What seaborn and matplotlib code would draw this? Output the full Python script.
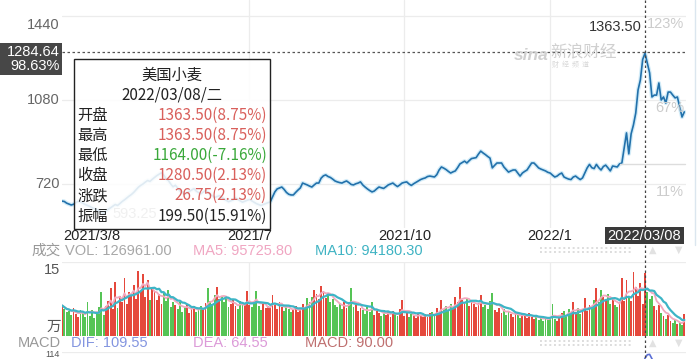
import numpy as np
import pandas as pd
import matplotlib
matplotlib.use('Agg')
import matplotlib.pyplot as plt
import seaborn as sns
from matplotlib.patches import Rectangle

# ---------------- data ----------------
close = [
    646.75, 645, 638, 634, 630, 633, 640, 646, 643, 638,
    632, 628, 624, 618, 614, 610, 605, 600, 593.25, 603,
    612, 618, 625, 632, 628, 636, 645, 652, 660, 668,
    675, 684, 695, 706, 714, 720, 728, 735, 731, 740,
    748, 756, 762, 768, 758, 742, 735, 720, 708, 715,
    702, 690, 684, 676, 682, 688, 694, 700, 690, 683,
    678, 685, 692, 686, 678, 670, 662, 666, 670, 664,
    656, 650, 644, 648, 652, 660, 654, 648, 642, 646,
    650, 654, 648, 642, 636, 632, 628, 632, 636, 640,
    643, 665, 686, 699, 703, 707, 697, 684, 676, 673,
    673, 684, 694, 703, 724, 720, 716, 711, 707, 716,
    724, 724, 745, 755, 759, 752, 748, 741, 733, 729,
    726, 724, 729, 733, 726, 718, 716, 721, 724, 729,
    716, 707, 699, 692, 686, 690, 699, 707, 704, 701,
    708, 716, 720, 724, 716, 709, 716, 724, 727, 729,
    720, 714, 721, 727, 733, 739, 743, 746, 752, 754,
    752, 750, 760, 780, 793, 788, 782, 774, 767, 772,
    776, 790, 806, 812, 818, 810, 820, 829, 831, 833,
    848, 861, 853, 846, 838, 831, 789, 800, 810, 810,
    810, 793, 782, 771, 776, 780, 780, 767, 754, 767,
    774, 780, 795, 810, 810, 800, 789, 784, 780, 776,
    770, 767, 758, 750, 754, 762, 767, 750, 745, 741,
    739, 750, 754, 746, 739, 746, 768, 789, 804, 790,
    786, 804, 790, 780, 795, 801, 789, 776, 797, 795,
    793, 806, 810, 875, 939, 849, 935, 973, 1024, 1123,
    1166, 1253.75, 1280.5, 1239, 1196, 1093, 1101, 1101, 1153, 1080,
    1093, 1067, 1114, 1114, 1101, 1089, 1093, 1050, 1007, 1029,
]
volume = [  # 万手
    6.2, 5.5, 4.8, 5.0, 4.2, 5.6, 4.4, 3.9, 5.2, 4.6,
    3.8, 6.9, 4.1, 5.3, 3.6, 4.5, 5.8, 8.9, 4.2, 6.0,
    7.1, 9.7, 5.5, 10.9, 5.6, 8.2, 6.8, 11.8, 6.5, 9.0,
    8.4, 10.3, 7.6, 13.2, 9.1, 12.6, 8.0, 11.4, 7.2, 9.5,
    8.9, 7.3, 8.5, 6.4, 9.0, 7.0, 9.3, 5.8, 6.9, 6.2,
    5.5, 6.8, 4.9, 5.9, 6.3, 4.6, 5.7, 6.1, 4.8, 5.4,
    6.0, 5.2, 6.6, 9.7, 7.1, 6.5, 8.3, 9.9, 7.4, 8.2,
    6.8, 7.7, 5.9, 6.4, 7.2, 6.0, 5.5, 7.0, 6.3, 6.6,
    9.1, 6.2, 5.8, 6.9, 9.1, 6.0, 5.2, 6.4, 5.6, 6.1,
    5.8, 8.3, 6.5, 5.4, 6.8, 5.9, 5.0, 6.3, 5.5, 4.9,
    5.3, 6.0, 4.8, 5.6, 6.4, 5.7, 7.7, 6.9, 8.0, 9.3,
    8.5, 7.6, 10.1, 9.2, 7.8, 8.8, 6.9, 7.5, 6.2, 5.9,
    6.5, 5.4, 6.8, 5.7, 6.9, 9.7, 5.8, 6.2, 5.0, 5.6,
    5.2, 4.5, 5.9, 4.8, 6.9, 4.3, 5.1, 4.6, 4.0, 5.3,
    4.2, 4.8, 3.9, 5.1, 4.4, 4.0, 5.5, 7.3, 4.1, 4.6,
    3.9, 4.5, 4.0, 3.6, 4.7, 4.2, 3.8, 4.4, 3.9, 4.6,
    4.9, 4.1, 5.6, 4.8, 7.3, 5.4, 6.0, 5.2, 6.5, 5.7,
    7.9, 6.8, 9.9, 7.2, 6.5, 7.8, 6.1, 7.0, 6.4, 5.8,
    6.6, 8.3, 5.9, 6.2, 5.5, 7.0, 8.7, 5.3, 4.8, 5.6,
    4.6, 5.4, 4.3, 5.0, 4.4, 3.8, 4.9, 4.2, 3.6, 4.5,
    4.1, 3.7, 4.6, 3.9, 3.4, 4.0, 3.3, 3.8, 3.1, 3.6,
    3.2, 3.9, 6.5, 3.4, 3.0, 3.7, 4.6, 5.1, 4.2, 5.5,
    4.4, 6.9, 4.8, 5.6, 4.5, 5.2, 7.7, 5.0, 6.3, 5.8,
    7.2, 9.7, 6.8, 9.3, 8.0, 7.1, 8.6, 6.5, 7.4, 6.2,
    5.8, 6.9, 11.8, 7.0, 11.4, 8.0, 7.0, 12.92, 9.9, 8.1,
    10.7, 6.46, 12.6961, 8.9, 7.4, 8.1, 6.0, 5.2, 6.3, 4.6,
    4.1, 3.5, 4.3, 3.0, 2.6, 3.2, 2.4, 2.7, 2.2, 4.5,
]
tick_labels = ['2021/3/8', '2021/7', '2021/10', '2022/1']
tick_idx = [0, 81, 148, 211]
sel_idx = 252
sel_label = '2022/03/08'
price_ticks = [1440, 1080, 720]
cursor_price = 1284.64
high_label = '1363.50'
tip_title = '美国小麦'
tip_date = '2022/03/08/二'
tip_keys = ['开盘', '最高', '最低', '收盘', '涨跌', '振幅']
tip_vals = ['1363.50(8.75%)', '1363.50(8.75%)', '1164.00(-7.16%)',
            '1280.50(2.13%)', '26.75(2.13%)', '199.50(15.91%)']
tip_cols = ['#d9605c', '#d9605c', '#3aa83a', '#d9605c', '#d9605c', '#222222']
vol_text = ['VOL: 126961.00', 'MA5: 95725.80', 'MA10: 94180.30']
macd_text = ['DIF: 109.55', 'DEA: 64.55', 'MACD: 90.00']
vol_top_label = '15'
macd_top_label = '114'

# ---------------- style ----------------
sns.set_style('white')
plt.rcParams['font.family'] = ['Liberation Sans', 'Noto Sans CJK SC', 'DejaVu Sans']
CJK = ['Noto Sans CJK SC', 'DejaVu Sans']

W, H = 700, 359
X0, XR = 62, 686
PXD = 2.3135
GRID = '#ececec'

def rect(l, t, r, b):
    return [l / W, 1 - b / H, (r - l) / W, (b - t) / H]

fig = plt.figure(figsize=(7, 3.59), dpi=100)
n = len(close)
idx = np.arange(n)
xmax = (XR - X0) / PXD
close_s = pd.Series(close)
vol_s = pd.Series(volume)

# ---------------- price panel ----------------
ax1 = fig.add_axes(rect(X0, 0, XR, 228))
ax1.axis('off')
for p in price_ticks:
    ax1.axhline(p, color=GRID, lw=0.9, zorder=0)
for t in tick_idx[1:]:
    ax1.axvline(t, color=GRID, lw=0.9, zorder=0)
sns.lineplot(x=idx, y=close, ax=ax1, color='#d3ecf8', lw=3.0, zorder=2)
sns.lineplot(x=idx, y=close, ax=ax1, color='#2271ab', lw=1.2, zorder=3)
ax1.axhline(cursor_price, color='#555555', lw=0.9, ls=(0, (2, 2)), zorder=4)
imin = int(np.argmin(close))
ax1.text(imin + 3.6, close[imin], f'{close[imin]:.2f}', ha='left', va='center',
         color='#999999', fontsize=10.5)
ax1.set_xlim(0, xmax)
ax1.set_ylim(531.4, 1508.6)

# ---------------- volume panel ----------------
ax2 = fig.add_axes(rect(X0, 262, XR, 336))
ax2.axis('off')
ax2.axhline(15, color=GRID, lw=0.9, zorder=0)
ax2.axhline(0, color=GRID, lw=0.9, zorder=0)
for t in tick_idx[1:]:
    ax2.axvline(t, color=GRID, lw=0.9, zorder=0)
chg = np.diff(np.asarray(close), prepend=close[0])
direction = np.where(chg >= 0, 'up', 'down')
sns.barplot(x=idx, y=volume, hue=direction, palette={'up': '#e5483c', 'down': '#55c455'},
            native_scale=True, dodge=False, width=0.8, legend=False, saturation=1,
            linewidth=0, ax=ax2)
ma5 = vol_s.rolling(5, min_periods=1).mean()
ma10 = vol_s.rolling(10, min_periods=1).mean()
sns.lineplot(x=idx, y=ma5.values, ax=ax2, color='#f2a9bf', lw=1.3)
sns.lineplot(x=idx, y=ma10.values, ax=ax2, color='#3db5c6', lw=1.6)
ax2.set_xlim(0, xmax)
ax2.set_ylim(0, 15)
ax2.axis('off')

# ---------------- MACD panel (mostly cut off) ----------------
ax3 = fig.add_axes(rect(X0, 352, XR, 430))
ax3.axis('off')
ema12 = close_s.ewm(span=12, adjust=False).mean()
ema26 = close_s.ewm(span=26, adjust=False).mean()
dif = ema12 - ema26
dea = dif.ewm(span=9, adjust=False).mean()
ax3.axhline(max(dif.max(), dea.max()) * 1.04, color=GRID, lw=0.9)
sns.lineplot(x=idx, y=dif.values, ax=ax3, color='#5b6fd6', lw=1.2)
sns.lineplot(x=idx, y=dea.values, ax=ax3, color='#d98ad9', lw=1.2)
ax3.set_xlim(0, xmax)
ax3.set_ylim(dif.min() - 20, max(dif.max(), dea.max()) * 1.04)
ax3.axis('off')

# ---------------- overlay (pixel coordinates) ----------------
ov = fig.add_axes([0, 0, 1, 1], zorder=10)
ov.set_xlim(0, W)
ov.set_ylim(H, 0)
ov.axis('off')
ov.patch.set_alpha(0)

def py(price):
    return 100 + (1080 - price) / 4.286

base = close[0]
# left price labels and right percent labels
for p in price_ticks:
    yy = py(p) + (9 if p == max(price_ticks) else 0)
    ov.text(60, yy, f'{p}', ha='right', va='center', color='#666666', fontsize=10.5)
    ov.text(684, py(p) + 8, f'{(p / base - 1) * 100:.0f}%', ha='right', va='center',
            color='#cccccc', fontsize=10.5)
ov.plot([620, 685], [164, 164], color='#dddddd', lw=1)

# right border
ov.plot([695, 695], [0, 245], color='#dbe6ef', lw=1)

# watermark
ov.text(531, 55, 'sina', ha='center', va='center', color='#d0d0d0', fontsize=12.5,
        fontstyle='italic', fontweight='bold')
ov.text(584, 52, '新浪财经', ha='center', va='center', color='#d0d0d0', fontsize=12,
        family=CJK)
ov.text(570, 65, '财  经  频  道', ha='center', va='center', color='#d8d8d8', fontsize=5,
        family=CJK)

# crosshair vertical
xs = X0 + sel_idx * PXD
ov.plot([xs, xs], [0, H], color='#444444', lw=0.9, ls=(0, (2, 2)), zorder=1)
ov.text(xs - 3, 27, high_label, ha='right', va='center', color='#333333', fontsize=10.5)

# cursor price box
ov.add_patch(Rectangle((0, 43), 62, 32, facecolor='#474747', edgecolor='none', zorder=2))
ov.text(60, 52, f'{cursor_price:.2f}', ha='right', va='center', color='white', fontsize=10.5,
        zorder=3)
ov.text(60, 66, f'{(cursor_price / base - 1) * 100:.2f}%', ha='right', va='center',
        color='white', fontsize=10.5, zorder=3)

# date labels
for lab, t in zip(tick_labels, tick_idx):
    xx = X0 + t * PXD
    ov.text(xx + (1 if t == 0 else 0), 236, lab, ha='left' if t == 0 else 'center',
            va='center', color='#222222', fontsize=10.5)
ov.add_patch(Rectangle((605, 227), 79, 17, facecolor='#3a3a3a', edgecolor='none', zorder=3))
ov.text(644.5, 235.5, sel_label, ha='center', va='center', color='white', fontsize=10.5,
        zorder=4)

# tooltip
ov.add_patch(Rectangle((74, 59), 196, 170, facecolor=(1, 1, 1, 0.86), edgecolor='#222222',
                       lw=1, zorder=5))
ov.text(172, 75, tip_title, ha='center', va='center', color='#222222', fontsize=11,
        family=CJK, zorder=6)
ov.text(172, 95, tip_date, ha='center', va='center', color='#222222', fontsize=11,
        family=CJK, zorder=6)
for i, (k, v, c) in enumerate(zip(tip_keys, tip_vals, tip_cols)):
    yy = 115 + i * 20.2
    ov.text(77, yy, k, ha='left', va='center', color='#222222', fontsize=11, family=CJK,
            zorder=6)
    ov.text(267, yy, v, ha='right', va='center', color=c, fontsize=11, family=CJK, zorder=6)

# volume header
ov.text(61, 251, '成交', ha='right', va='center', color='#999999', fontsize=10.5, family=CJK)
ov.text(65, 251, vol_text[0], ha='left', va='center', color='#a8a8a8', fontsize=10.5)
ov.text(193, 251, vol_text[1], ha='left', va='center', color='#f0a6c2', fontsize=10.5)
ov.text(315, 251, vol_text[2], ha='left', va='center', color='#3fb3c3', fontsize=10.5)
ov.text(60, 270, vol_top_label, ha='right', va='center', color='#555555', fontsize=10.5)
ov.text(61, 327, '万', ha='right', va='center', color='#555555', fontsize=10.5, family=CJK)

# MACD header
ov.text(61, 343, 'MACD', ha='right', va='center', color='#999999', fontsize=10.5)
ov.text(71, 343, macd_text[0], ha='left', va='center', color='#8395e0', fontsize=10.5)
ov.text(193, 343, macd_text[1], ha='left', va='center', color='#dc9ad8', fontsize=10.5)
ov.text(305, 343, macd_text[2], ha='left', va='center', color='#bf6f6f', fontsize=10.5)
ov.text(60, 359, macd_top_label, ha='right', va='bottom', color='#555555', fontsize=6.5)

# scroll handles
for yb in (250, 343):
    for dy in (-1.8, 1.8):
        ov.plot([540, 633], [yb + dy, yb + dy], color='#dddddd', lw=1.4, ls=(0, (1, 1.4)))
    ov.text(653, yb, '▲', ha='center', va='center', color='#e2e2e2', fontsize=7,
            family=['DejaVu Sans'])
    ov.text(679, yb, '▼', ha='center', va='center', color='#e2e2e2', fontsize=7,
            family=['DejaVu Sans'])

fig.savefig('out.png', dpi=100)
